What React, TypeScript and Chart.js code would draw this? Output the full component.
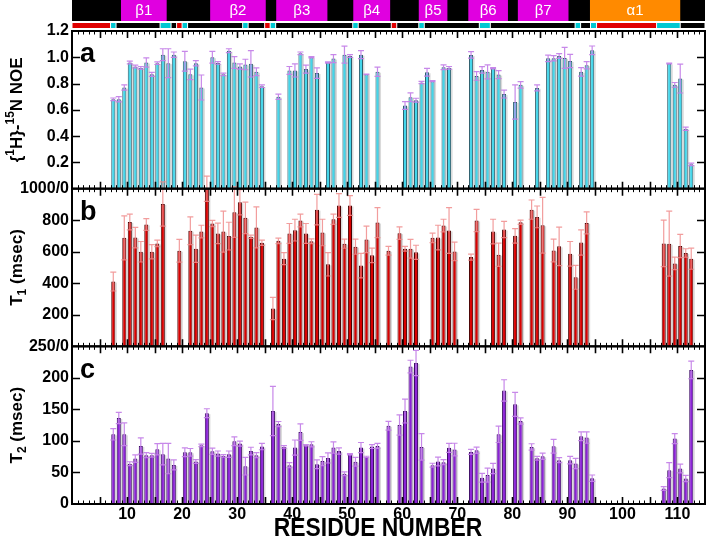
import { useEffect, useRef } from 'react';
import { Chart, registerables } from 'chart.js';

Chart.register(...registerables);

const FONT = '"Liberation Sans", Arial, Helvetica, sans-serif';

// ---------- residue axis ----------
const residueMin = 0;
const residueMax = 115;
const residueTickLabels = [10, 20, 30, 40, 50, 60, 70, 80, 90, 100, 110];
// each residue occupies the cell [r, r+1]; its bar sits in the middle of the cell
const barCellCentre = 0.5;

// ---------- panel a : {1H}-15N NOE ----------
const noeResidues = [
  7, 8, 9, 10, 11, 12, 13, 14, 15, 16, 17, 18,
  20, 21, 22, 23,
  25, 26, 27, 28, 29, 30, 31, 32, 33, 34,
  37, 39, 40, 41, 42, 43, 44, 46, 47, 49, 50, 52, 53, 55,
  60, 61, 62, 63, 64, 65, 67, 68,
  72, 73, 74, 75, 76, 77, 78, 80, 81, 84,
  86, 87, 88, 89, 90, 92, 93, 94,
  108, 109, 110, 111, 112,
];
const noeValues = [
  0.68, 0.68, 0.77, 0.96, 0.93, 0.92, 0.96, 0.87, 0.955, 1.02, 0.955, 1.02,
  0.97, 0.87, 0.955, 0.77,
  1.0, 0.957, 0.87, 1.05, 0.96, 0.93, 0.945, 0.95, 0.89, 0.78,
  0.7, 0.9, 0.9, 1.03, 0.91, 1.0, 0.88, 0.96, 0.99, 1.02, 1.01, 1.02, 0.87, 0.89,
  0.633, 0.696, 0.673, 0.808, 0.886, 0.818, 0.924, 0.92,
  1.018, 0.858, 0.904, 0.889, 0.916, 0.868, 0.72, 0.66, 0.79, 0.767,
  0.992, 0.992, 1.01, 0.995, 0.972, 0.889, 0.939, 1.053,
  0.952, 0.79, 0.838, 0.456, 0.185,
];
const noeErrors = [
  0.01, 0.02, 0.02, 0.01, 0.01, 0.01, 0.035, 0.015, 0.01, 0.045, 0.11, 0.02,
  0.075, 0.04, 0.02, 0.095,
  0.045, 0.01, 0.01, 0.015, 0.045, 0.02, 0.04, 0.1, 0.03, 0.01,
  0.02, 0.03, 0.05, 0.01, 0.03, 0.005, 0.04, 0.005, 0.03, 0.065, 0.01, 0.03, 0.002, 0.035,
  0.03, 0.033, 0.015, 0.008, 0.03, 0.004, 0.018, 0.01,
  0.025, 0.033, 0.025, 0.053, 0.005, 0.03, 0.03, 0.13, 0.025, 0.023,
  0.025, 0.02, 0.018, 0.08, 0.05, 0.033, 0.028, 0.033,
  0.003, 0.018, 0.11, 0.013, 0.01,
];
const noeTickValues = [0.2, 0.4, 0.6, 0.8, 1.0, 1.2];
const noeTickLabels = ['0.2', '0.4', '0.6', '0.8', '1.0', '1.2'];

// ---------- panel b : T1 ----------
const t1Residues = [
  7, 9, 10, 11, 12, 13, 14, 15, 16,
  19, 21, 22, 23, 24, 25, 26, 27, 28, 29, 30, 31, 32, 33, 34,
  36, 37, 38, 39, 40, 41, 42, 43, 44, 45, 46, 47, 48, 49, 50, 51, 52, 53, 54, 55,
  57, 59, 60, 61, 62, 65, 66, 67, 68, 69,
  72, 73, 76, 77, 78, 80, 81, 83, 84, 85, 87, 88, 90, 91, 92, 93,
  107, 108, 109, 110, 111, 112,
];
const t1Values = [
  411, 688, 789, 690, 600, 773, 600, 653, 903,
  606, 733, 619, 728, 1000, 779, 716, 728, 699, 851, 914, 815, 695, 754, 657,
  240, 669, 556, 716, 737, 798, 716, 667, 867, 722, 520, 806, 893, 651, 893, 632, 512, 678, 577, 785,
  606, 718, 619, 619, 596, 688, 690, 766, 735, 602,
  566, 798, 728, 581, 741, 701, 787, 867, 821, 768, 608, 634, 587, 438, 659, 783,
  653, 651, 526, 636, 592, 556,
];
const t1Errors = [
  60, 140, 50, 65, 65, 37, 45, 20, 140,
  72, 88, 86, 40, 80, 20, 65, 130, 88, 160, 80, 100, 10, 130, 17,
  70, 17, 38, 63, 69, 40, 63, 15, 97, 84, 74, 32, 75, 29, 63, 48, 78, 84, 46, 95,
  28, 40, 15, 60, 45, 30, 78, 40, 145, 59,
  19, 71, 78, 74, 51, 46, 13, 61, 69, 177, 72, 122, 78, 76, 80, 70,
  147, 206, 40, 74, 27, 67,
];
const t1TickValues = [0, 200, 400, 600, 800, 1000];
const t1TickLabels = ['250/0', '200', '400', '600', '800', '1000/0'];

// ---------- panel c : T2 ----------
const t2Residues = [
  7, 8, 9, 10, 11, 12, 13, 14, 15, 16, 17, 18,
  20, 21, 22, 23, 24, 25, 26, 27, 28, 29, 30, 31, 32, 33, 34,
  36, 37, 38, 39, 40, 41, 42, 43, 44, 45, 46, 47, 48, 49, 50, 51, 52, 53, 54, 55,
  57, 59, 60, 61, 62, 63, 65, 66, 67, 68, 69,
  72, 73, 74, 75, 76, 77, 78, 80, 81, 83, 84, 85, 87, 88, 90, 91, 92, 93, 94,
  107, 108, 109, 110, 111, 112,
];
const t2Values = [
  110.5, 136.3, 110.5, 64, 72, 92, 77.4, 77.4, 86.8, 79, 72, 62,
  82, 82, 67.4, 93, 144, 83.7, 80, 76.3, 79, 99.5, 95.8, 60, 84, 77.4, 91,
  147.4, 126.8, 90.5, 61.6, 89.5, 114, 93, 94.7, 63, 68, 73, 89.5, 84, 48, 79, 67, 89.5, 74.7, 91, 92,
  124, 125.3, 147.4, 217.9, 223.7, 90.5, 61.6, 67.4, 66.3, 89, 86.3,
  82.6, 85.3, 41.6, 45.8, 56.3, 110.5, 180, 158, 131.6, 90.5, 72.6, 75.8, 91.6, 69.5, 69.5, 64.2, 107.4, 105.3, 41,
  24.7, 53.7, 103.7, 56.3, 40.5, 212.6,
];
const t2Errors = [
  9, 9, 18, 3, 6, 13, 4, 3, 9, 17, 24, 8,
  7, 6, 3, 2, 7, 5, 4, 2, 5, 7, 4, 14, 6, 4, 5,
  39, 4, 2, 4, 12, 13, 1, 4, 7, 7, 8, 9, 5, 3, 1, 7, 8, 1, 3, 4,
  7, 16, 19, 10, 20, 21, 3, 7, 4, 7, 10,
  4, 5, 7, 11, 8, 13, 17, 19, 5, 5, 3, 5, 11, 4, 6, 8, 7, 9, 5,
  3, 12, 8, 7, 5, 14,
];
const t2TickValues = [0, 50, 100, 150, 200];
const t2TickLabels = ['0', '50', '100', '150', '200'];

// ---------- secondary structure ----------
const ssNames = ['β1', 'β2', 'β3', 'β4', 'β5', 'β6', 'β7', 'α1'];
const ssStart = [8.9, 25.1, 37.1, 51.1, 63.0, 72.0, 81.0, 94.1];
const ssEnd = [17.2, 35.2, 46.4, 57.8, 68.2, 79.2, 90.2, 110.5];
const ssKind = ['E', 'E', 'E', 'E', 'E', 'E', 'E', 'H'];

const stripEdges = [0, 7, 8, 16, 18, 19, 20, 21, 31, 32, 35, 36, 37, 51, 52, 58, 59, 63, 64, 74, 76, 91.4, 92.4, 94.2, 95.3, 106.2, 110.5, 115];
const stripKind = ['H', 'T', 'C', 'T', 'C', 'H', 'T', 'C', 'T', 'C', 'H', 'T', 'C', 'T', 'C', 'H', 'C', 'T', 'C', 'T', 'C', 'T', 'C', 'T', 'H', 'T', 'C'];

const ssColour: Record<string, string> = { E: '#e000e0', H: '#ff8a00' };
const stripColour: Record<string, string> = { H: '#e00000', T: '#00c8d2', C: '#000000' };

type Part = { t: string; s?: 'sup' | 'sub' };
const titleA: Part[] = [{ t: '{' }, { t: '1', s: 'sup' }, { t: 'H}-' }, { t: '15', s: 'sup' }, { t: 'N NOE' }];
const titleB: Part[] = [{ t: 'T' }, { t: '1', s: 'sub' }, { t: ' (msec)' }];
const titleC: Part[] = [{ t: 'T' }, { t: '2', s: 'sub' }, { t: ' (msec)' }];
const xTitle = 'RESIDUE NUMBER';

function drawRich(ctx: CanvasRenderingContext2D, parts: Part[], cx: number, cy: number, size: number) {
  ctx.save();
  ctx.translate(cx, cy);
  ctx.rotate(-Math.PI / 2);
  const big = `bold ${size}px ${FONT}`;
  const small = `bold ${Math.round(size * 0.68)}px ${FONT}`;
  let w = 0;
  for (const p of parts) {
    ctx.font = p.s ? small : big;
    w += ctx.measureText(p.t).width;
  }
  let x = -w / 2;
  ctx.textBaseline = 'middle';
  ctx.textAlign = 'left';
  ctx.fillStyle = '#000';
  for (const p of parts) {
    ctx.font = p.s ? small : big;
    const dy = p.s === 'sup' ? -size * 0.4 : p.s === 'sub' ? size * 0.32 : 0;
    ctx.fillText(p.t, x, dy);
    x += ctx.measureText(p.t).width;
  }
  ctx.restore();
}

const panels = [
  { id: 'yA', res: noeResidues, val: noeValues, err: noeErrors, errColour: 'rgba(196,130,232,0.95)', ticks: noeTickValues, letter: 'a', title: titleA },
  { id: 'yB', res: t1Residues, val: t1Values, err: t1Errors, errColour: 'rgba(240,140,140,0.85)', ticks: t1TickValues, letter: 'b', title: titleB },
  { id: 'yC', res: t2Residues, val: t2Values, err: t2Errors, errColour: 'rgba(196,130,232,0.95)', ticks: t2TickValues, letter: 'c', title: titleC },
];

const decorPlugin = {
  id: 'decor',
  beforeDatasetsDraw(chart: any) {
    // faint grey shadow on the right-hand side of every bar
    const ctx: CanvasRenderingContext2D = chart.ctx;
    ctx.save();
    ctx.fillStyle = 'rgba(150,150,150,0.35)';
    chart.data.datasets.forEach((_d: any, di: number) => {
      const meta = chart.getDatasetMeta(di);
      meta.data.forEach((bar: any) => {
        const { x, y, base, width } = bar.getProps(['x', 'y', 'base', 'width'], true);
        ctx.fillRect(x + width / 2, y + 1, 1.5, base - y - 1);
      });
    });
    ctx.restore();
  },
  afterDatasetsDraw(chart: any) {
    const ctx: CanvasRenderingContext2D = chart.ctx;
    const xs = chart.scales.x;
    const left = chart.chartArea.left;
    const right = chart.chartArea.right;
    ctx.save();
    // error bars
    for (const p of panels) {
      const ys = chart.scales[p.id];
      ctx.strokeStyle = p.errColour;
      ctx.lineWidth = 1.2;
      p.res.forEach((r, i) => {
        const x = xs.getPixelForValue(r + barCellCentre);
        const yHi = ys.getPixelForValue(p.val[i] + p.err[i]);
        const yLo = ys.getPixelForValue(p.val[i] - p.err[i]);
        ctx.beginPath();
        ctx.moveTo(x, yHi);
        ctx.lineTo(x, yLo);
        ctx.moveTo(x - 3, yHi);
        ctx.lineTo(x + 3, yHi);
        ctx.moveTo(x - 3, yLo);
        ctx.lineTo(x + 3, yLo);
        ctx.stroke();
      });
    }
    // ticks and frames
    ctx.strokeStyle = '#000';
    for (const p of panels) {
      const ys = chart.scales[p.id];
      const top = ys.top;
      const bottom = ys.bottom;
      for (let v = residueMin + 1; v < residueMax; v++) {
        const major = v % 5 === 0;
        const x = Math.round(xs.getPixelForValue(v)) + 0.5;
        const len = major ? 7 : 3.5;
        ctx.lineWidth = major ? 1.6 : 1;
        ctx.beginPath();
        ctx.moveTo(x, bottom);
        ctx.lineTo(x, bottom - len);
        ctx.moveTo(x, top);
        ctx.lineTo(x, top + len);
        ctx.stroke();
      }
      ctx.lineWidth = 1.6;
      for (const tv of p.ticks) {
        if (tv <= ys.min || tv >= ys.max) continue;
        const y = Math.round(ys.getPixelForValue(tv)) + 0.5;
        ctx.beginPath();
        ctx.moveTo(left, y);
        ctx.lineTo(left + 8, y);
        ctx.moveTo(right, y);
        ctx.lineTo(right - 8, y);
        ctx.stroke();
      }
      ctx.lineWidth = 2;
      ctx.strokeRect(left, top, right - left, bottom - top);
    }
    ctx.restore();
  },
  afterDraw(chart: any) {
    const ctx: CanvasRenderingContext2D = chart.ctx;
    const xs = chart.scales.x;
    ctx.save();
    // secondary structure bar
    const x0 = xs.getPixelForValue(residueMin);
    const x1 = xs.getPixelForValue(residueMax);
    ctx.fillStyle = '#000';
    ctx.fillRect(x0, 0, x1 - x0, 21);
    ssNames.forEach((name, i) => {
      const a = xs.getPixelForValue(ssStart[i]);
      const b = xs.getPixelForValue(ssEnd[i]);
      ctx.fillStyle = ssColour[ssKind[i]];
      ctx.fillRect(a, 0, b - a, 21);
      ctx.fillStyle = '#fff';
      ctx.font = `15px ${FONT}`;
      ctx.textAlign = 'center';
      ctx.textBaseline = 'middle';
      ctx.fillText(name, (a + b) / 2, 11);
    });
    for (let i = 0; i < stripKind.length; i++) {
      const a = xs.getPixelForValue(stripEdges[i]);
      const b = xs.getPixelForValue(stripEdges[i + 1]);
      ctx.fillStyle = stripColour[stripKind[i]];
      ctx.fillRect(a + 0.5, 23, b - a - 1, 5);
    }
    // panel letters and axis titles
    for (const p of panels) {
      const ys = chart.scales[p.id];
      ctx.fillStyle = '#000';
      ctx.font = `bold 27px ${FONT}`;
      ctx.textAlign = 'left';
      ctx.textBaseline = 'middle';
      ctx.fillText(p.letter, chart.chartArea.left + 8, ys.top + 24);
      drawRich(ctx, p.title, 17, (ys.top + ys.bottom) / 2, 17);
    }
    // condensed bold x-axis title
    ctx.save();
    ctx.translate(378, 529);
    ctx.scale(0.88, 1);
    ctx.font = `bold 26px ${FONT}`;
    ctx.textAlign = 'center';
    ctx.textBaseline = 'middle';
    ctx.fillStyle = '#000';
    ctx.fillText(xTitle, 0, 0);
    ctx.restore();
    ctx.restore();
  },
};

function yScale(min: number, max: number, values: number[], labels: string[]) {
  return {
    type: 'linear',
    position: 'left',
    stack: 'panels',
    stackWeight: 1,
    min,
    max,
    grid: { display: false, drawTicks: false },
    border: { display: false },
    afterBuildTicks: (s: any) => {
      s.ticks = values.map((v) => ({ value: v }));
    },
    afterFit: (s: any) => {
      s.width = 72;
    },
    ticks: {
      autoSkip: false,
      padding: 3,
      color: '#000',
      font: { family: FONT, size: 16, weight: 'bold' },
      callback: (_v: any, i: number) => labels[i],
    },
  };
}

function barDataset(label: string, res: number[], val: number[], yAxisID: string, fill: string, edge: string) {
  return {
    type: 'bar',
    label,
    data: res.map((r, i) => ({ x: r + barCellCentre, y: val[i] })),
    yAxisID,
    xAxisID: 'x',
    backgroundColor: fill,
    borderColor: edge,
    borderWidth: 1,
    grouped: false,
    barPercentage: 0.74,
    categoryPercentage: 1,
  };
}

export default function App() {
  const ref = useRef<HTMLCanvasElement>(null);
  useEffect(() => {
    const chart = new Chart(ref.current as HTMLCanvasElement, {
      type: 'bar',
      data: {
        datasets: [
          barDataset('NOE', noeResidues, noeValues, 'yA', '#44d6ea', '#2d5e6c'),
          barDataset('T1', t1Residues, t1Values, 'yB', '#d90000', '#4a0000'),
          barDataset('T2', t2Residues, t2Values, 'yC', '#8b22d6', '#3d0c66'),
        ] as any,
      },
      options: {
        animation: false,
        responsive: false,
        events: [],
        layout: { padding: { top: 31, right: 3, left: 0, bottom: 0 } },
        plugins: { legend: { display: false }, tooltip: { enabled: false } },
        scales: {
          x: {
            type: 'linear',
            position: 'bottom',
            offset: false,
            min: residueMin,
            max: residueMax,
            grid: { display: false, drawTicks: false, offset: false },
            border: { display: false },
            afterBuildTicks: (s: any) => {
              s.ticks = residueTickLabels.map((v) => ({ value: v }));
            },
            afterFit: (s: any) => {
              s.height = 38;
            },
            ticks: {
              autoSkip: false,
              maxRotation: 0,
              padding: 1,
              color: '#000',
              font: { family: FONT, size: 16, weight: 'bold' },
              callback: (v: any) => String(v),
            },
          },
          yC: yScale(0, 250, t2TickValues, t2TickLabels),
          yB: yScale(0, 1000, t1TickValues, t1TickLabels),
          yA: yScale(0, 1.2, noeTickValues, noeTickLabels),
        } as any,
      },
      plugins: [decorPlugin as any],
    });
    return () => chart.destroy();
  }, []);
  return (
    <div style={{ position: 'absolute', left: 0, top: 0, width: 708, height: 542, background: '#fff' }}>
      <canvas ref={ref} width={708} height={542} style={{ display: 'block' }} />
    </div>
  );
}
